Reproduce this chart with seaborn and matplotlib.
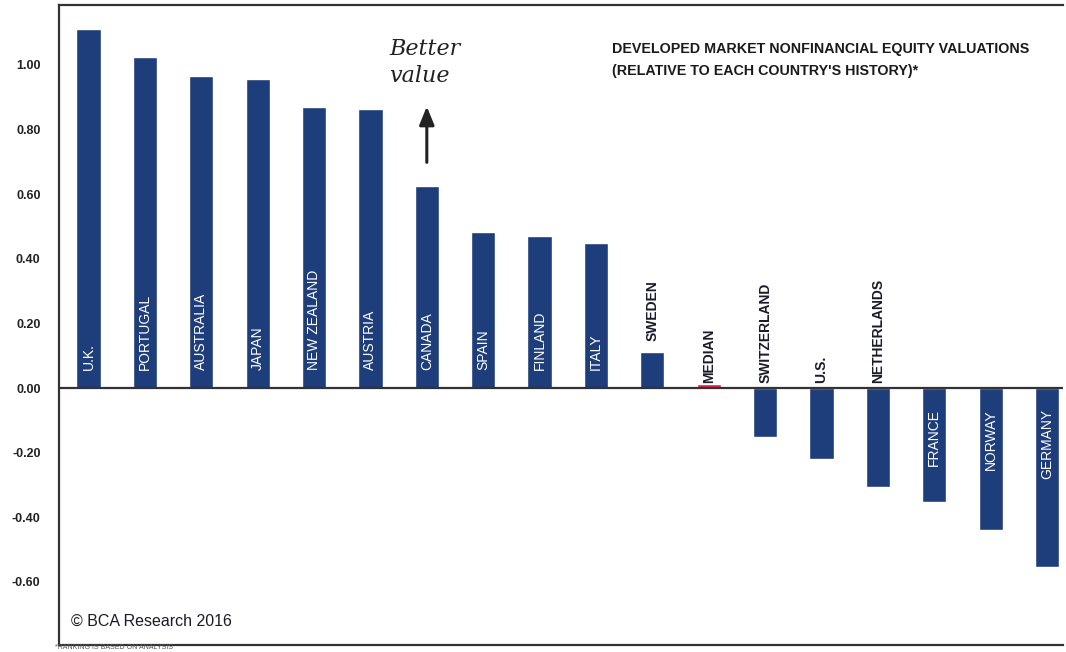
import matplotlib
matplotlib.use("Agg")
import matplotlib.pyplot as plt
import seaborn as sns
import pandas as pd

countries = ["U.K.", "PORTUGAL", "AUSTRALIA", "JAPAN", "NEW ZEALAND", "AUSTRIA",
             "CANADA", "SPAIN", "FINLAND", "ITALY", "SWEDEN", "MEDIAN",
             "SWITZERLAND", "U.S.", "NETHERLANDS", "FRANCE", "NORWAY", "GERMANY"]
valuations = [1.11, 1.025, 0.966, 0.957, 0.87, 0.864,
              0.625, 0.483, 0.47, 0.449, 0.11, 0.012,
              -0.152, -0.22, -0.306, -0.353, -0.44, -0.554]
yticks = [1.0, 0.8, 0.6, 0.4, 0.2, 0.0, -0.2, -0.4, -0.6]

navy = "#1e3d7b"
red = "#e3204a"
colors = [red if c == "MEDIAN" else navy for c in countries]

df = pd.DataFrame({"country": countries, "value": valuations})

sns.set_style("white")
plt.rcParams["font.family"] = ["Liberation Sans", "DejaVu Sans"]

fig = plt.figure(figsize=(10.66, 6.52), dpi=100)
ax = fig.add_axes([0.055, 0.011, 0.942, 0.981])

sns.barplot(data=df, x="country", y="value", hue="country", palette=colors,
            legend=False, width=0.43, saturation=1, ax=ax)

ax.set_xlim(-0.53, 17.28)
ax.set_ylim(-0.795, 1.185)
ax.set_xlabel("")
ax.set_ylabel("")
ax.set_xticks([])
ax.set_yticks(yticks)
ax.set_yticklabels([f"{t:.2f}" for t in yticks], fontsize=9, fontweight="bold",
                   color="#222222")
ax.tick_params(axis="y", direction="in", length=4, width=1, color="#333333", pad=13)
ax.axhline(0, color="#333333", lw=1.6, zorder=3)

for side in ["left", "bottom", "top"]:
    ax.spines[side].set_visible(True)
    ax.spines[side].set_color("#333333")
    ax.spines[side].set_linewidth(1.6)
ax.spines["right"].set_visible(False)

# country labels: inside tall bars in white, above the axis in dark for short ones
inside_pos = countries[:10]
inside_neg = ["FRANCE", "NORWAY", "GERMANY"]
for i, (c, v) in enumerate(zip(countries, valuations)):
    if c in inside_pos:
        ax.text(i, 0.055, c, rotation=90, ha="center", va="bottom", color="white",
                fontsize=10, zorder=4)
    elif c in inside_neg:
        ax.text(i, -0.065, c, rotation=90, ha="center", va="top", color="white",
                fontsize=10, zorder=4)
    else:
        base = v + 0.035 if v > 0.05 else 0.015
        ax.text(i, base, c, rotation=90, ha="center", va="bottom", color="#1a1a2a",
                fontsize=10, fontweight="bold", zorder=4)

ax.text(0.551, 0.943, "DEVELOPED MARKET NONFINANCIAL EQUITY VALUATIONS\n"
        "(RELATIVE TO EACH COUNTRY'S HISTORY)*", transform=ax.transAxes,
        ha="left", va="top", fontsize=10.3, fontweight="bold", color="#1a1a1a",
        linespacing=1.75)

ax.text(0.329, 0.948, "Better\nvalue", transform=ax.transAxes, ha="left", va="top",
        fontsize=16, style="italic", family="DejaVu Serif", color="#222222",
        linespacing=1.24)
ax.annotate("", xy=(6.0, 0.88), xytext=(6.0, 0.69),
            arrowprops=dict(arrowstyle="-|>,head_width=0.45,head_length=1.1",
                            color="#222222", lw=2.2))

ax.text(0.012, 0.036, "\u00a9 BCA Research 2016", transform=ax.transAxes,
        ha="left", va="center", fontsize=11.5, color="#1a1a2a")

fig.text(0.052, 0.0015, "*RANKING IS BASED ON ANALYSIS", ha="left", va="bottom",
         fontsize=5, color="#555555")

fig.savefig("out.png", dpi=100, facecolor="white")
